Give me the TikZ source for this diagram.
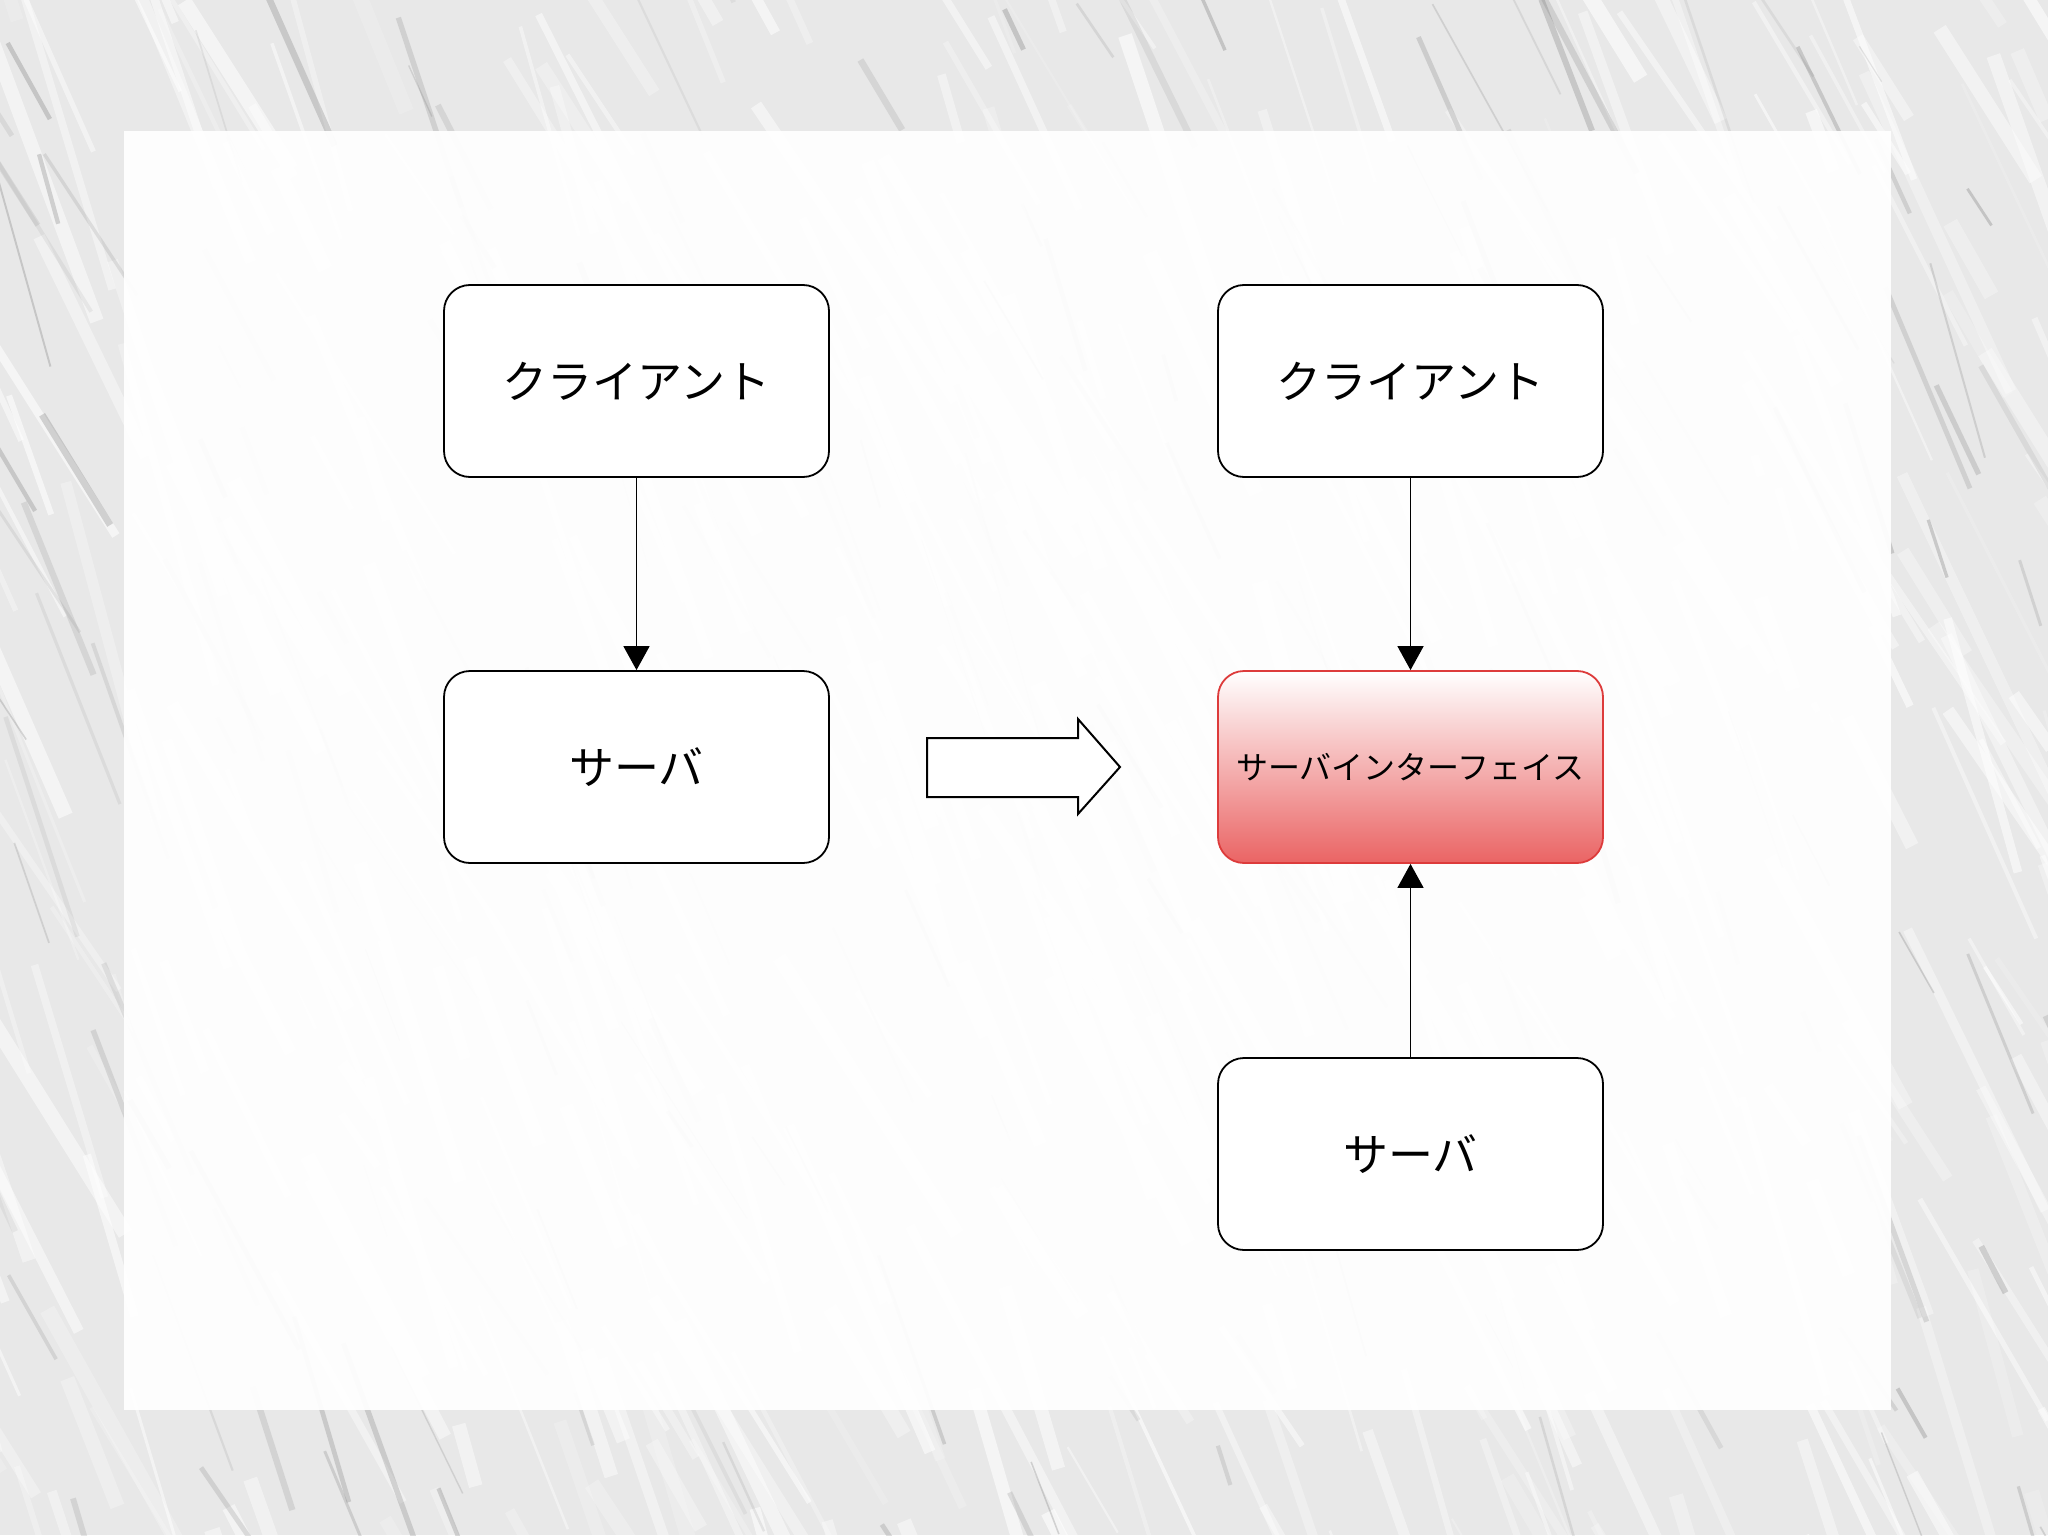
\documentclass[tikz,border=0pt]{standalone}
\usepackage{fontspec}
\newfontfamily\cjk{Noto Sans CJK JP}
\usetikzlibrary{arrows.meta}
\definecolor{ifred}{HTML}{EA6464}
\definecolor{ifborder}{HTML}{DD3B3B}
\begin{document}
\begin{tikzpicture}[x=0.5pt,y=-0.5pt,
  box/.style={draw=black,line width=0.9pt,rounded corners=13pt,fill=white,
    minimum width=192.5pt,minimum height=96pt,inner sep=0pt,font=\cjk\fontsize{22.5}{26}\selectfont},
  ifbox/.style={draw=ifborder,line width=0.9pt,rounded corners=13pt,top color=white,bottom color=ifred,
    minimum width=192.5pt,minimum height=96pt,inner sep=0pt,font=\cjk\fontsize{16}{19}\selectfont},
  conn/.style={draw=black,line width=0.8pt,-{Triangle[length=12pt,width=13pt]}},
  bigarrow/.style={draw=black,line width=1pt,fill=white,line join=miter}]
\useasboundingbox (0,0) rectangle (2048,1535);
% background texture
\fill[black!9] (0,0) rectangle (2048,1535);
\pgfmathsetseed{11}
\foreach \i in {1,...,600}{
  \pgfmathsetmacro{\xa}{rnd*2400-250}
  \pgfmathsetmacro{\ya}{rnd*1700-80}
  \pgfmathsetmacro{\len}{60+rnd*300}
  \pgfmathsetmacro{\ang}{55+rnd*20}
  \pgfmathsetmacro{\wd}{1+rnd*7}
  \pgfmathsetmacro{\op}{0.15+rnd*0.45}
  \draw[white,line width=\wd pt,opacity=\op] (\xa,\ya) -- ++(\ang:\len);
}
\foreach \i in {1,...,250}{
  \pgfmathsetmacro{\xa}{rnd*2400-250}
  \pgfmathsetmacro{\ya}{rnd*1700-80}
  \pgfmathsetmacro{\len}{40+rnd*200}
  \pgfmathsetmacro{\ang}{55+rnd*20}
  \pgfmathsetmacro{\wd}{0.5+rnd*3}
  \pgfmathsetmacro{\op}{0.08+rnd*0.2}
  \draw[black!60,line width=\wd pt,opacity=\op] (\xa,\ya) -- ++(\ang:\len);
}
% panel
\fill[white,opacity=0.94] (124,131) rectangle (1891,1410);
% nodes
\node[box] (c1) at (636.5,381) {クライアント};
\node[box] (s1) at (636.5,767) {サーバ};
\node[box] (c2) at (1410.5,381) {クライアント};
\node[ifbox] (i2) at (1410.5,767) {サーバインターフェイス};
\node[box] (s2) at (1410.5,1154) {サーバ};
% connectors
\draw[conn] (c1) -- (s1);
\draw[conn] (c2) -- (i2);
\draw[conn] (s2) -- (i2);
% big arrow
\draw[bigarrow] (927,738) -- (1078,738) -- (1078,719) -- (1120,767) -- (1078,814) -- (1078,797) -- (927,797) -- cycle;
\end{tikzpicture}
\end{document}
